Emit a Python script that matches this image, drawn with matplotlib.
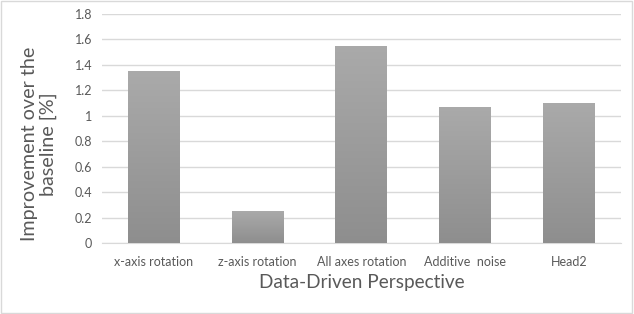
import numpy as np
import matplotlib
matplotlib.use('Agg')
import matplotlib.pyplot as plt
from matplotlib.patches import Rectangle

# Chart data
categories = ['x-axis rotation', 'z-axis rotation', 'All axes rotation', 'Additive  noise', 'Head2']
improvement = [1.35, 0.25, 1.55, 1.07, 1.10]
y_ticks = [0, 0.2, 0.4, 0.6, 0.8, 1, 1.2, 1.4, 1.6, 1.8]
y_tick_labels = ['0', '0.2', '0.4', '0.6', '0.8', '1', '1.2', '1.4', '1.6', '1.8']

plt.rcParams['font.family'] = ['Lato', 'DejaVu Sans']

fig = plt.figure(figsize=(6.34, 3.14), dpi=100)
ax = fig.add_axes([0.161, 0.226, 0.818, 0.73])

x = np.arange(len(categories))
bars = ax.bar(x, improvement, width=0.5, color='#9c9c9c', zorder=2)

# vertical gradient fill, lighter at the top
grad = np.linspace(0, 1, 256).reshape(-1, 1)
cmap = matplotlib.colors.LinearSegmentedColormap.from_list('g', ['#8e8e8e', '#aaaaaa'])
for b in bars:
    x0, y0 = b.get_x(), b.get_y()
    w, h = b.get_width(), b.get_height()
    im = ax.imshow(grad, extent=[x0, x0 + w, y0, y0 + h], origin='lower',
                   aspect='auto', cmap=cmap, zorder=3)
    im.set_clip_path(b)

ax.set_xlim(-0.5, len(categories) - 0.5)
ax.set_ylim(0, 1.8)
ax.set_yticks(y_ticks)
ax.set_yticklabels(y_tick_labels)
ax.set_xticks(x)
ax.set_xticklabels(categories)

ax.grid(axis='y', color='#d9d9d9', linewidth=1, zorder=0)
ax.set_axisbelow(True)
for s in ['top', 'right', 'left']:
    ax.spines[s].set_visible(False)
ax.spines['bottom'].set_color('#d9d9d9')
ax.tick_params(axis='both', length=0, labelsize=9, colors='#595959', pad=7)
ax.tick_params(axis='x', pad=9)

# y title sits a little below the plot centre, as in the original
fig.text(39 / 634, 1 - 144 / 314, 'Improvement over the\nbaseline [%]', fontsize=14.2,
         color='#595959', rotation=90, ha='center', va='center',
         multialignment='center', linespacing=1.05)
ax.set_xlabel('Data-Driven Perspective', fontsize=13.7, color='#595959', labelpad=5)

# light frame around the whole chart
fig.patches.append(Rectangle((0.002, 0.003), 0.995, 0.994, transform=fig.transFigure,
                             fill=False, edgecolor='#d9d9d9', linewidth=1))

fig.savefig('out.png', dpi=100)
